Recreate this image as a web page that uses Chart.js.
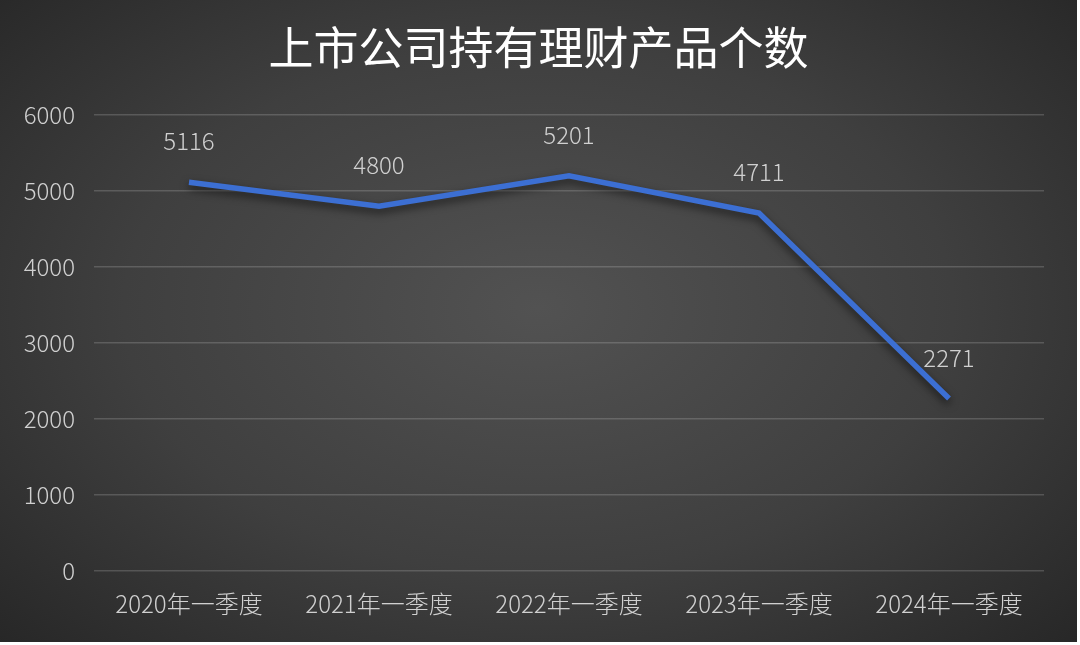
<!DOCTYPE html>
<html>
<head>
<meta charset="utf-8">
<script src="https://cdn.jsdelivr.net/npm/chart.js@4/dist/chart.umd.min.js"></script>
<style>
    html, body { margin: 0; padding: 0; background: #ffffff; }
    #wrap {
        position: absolute; left: 0; top: 0;
        width: 1077px; height: 642px;
        background: radial-gradient(ellipse 70% 75% at 50% 48%, #525252 0%, #3f3f3f 55%, #272727 100%);
    }
</style>
</head>
<body>
<div id="wrap"><canvas id="productChart" width="1077" height="642"></canvas></div>
<script>
const FONT = '"Noto Sans CJK SC", "Noto Sans", sans-serif';

let quarters = ['2020年一季度', '2021年一季度', '2022年一季度', '2023年一季度', '2024年一季度'],
    productCounts = [5116, 4800, 5201, 4711, 2271],
    yTicks = [0, 1000, 2000, 3000, 4000, 5000, 6000];

// value labels above each point + soft shadow under the line
const valueLabels = {
    id: 'valueLabels',
    beforeDatasetDraw(chart) {
        let ctx = chart.ctx;
        ctx.save();
        ctx.shadowColor = 'rgba(0,0,0,0.6)';
        ctx.shadowBlur = 8;
        ctx.shadowOffsetY = 4;
    },
    afterDatasetDraw(chart) {
        chart.ctx.restore();
    },
    afterDatasetsDraw(chart) {
        let ctx = chart.ctx,
            meta = chart.getDatasetMeta(0);
        ctx.save();
        ctx.font = '300 24px ' + FONT;
        ctx.fillStyle = '#d0d0d0';
        ctx.textAlign = 'center';
        ctx.textBaseline = 'middle';
        meta.data.forEach(function (pt, k) {
            ctx.fillText(productCounts[k], pt.x, pt.y - 41);
        });
        ctx.restore();
    }
};

let ctx = document.getElementById('productChart'),
    myChart = new Chart(ctx, {
        type: 'line',
        data: {
            labels: quarters,
            datasets: [{
                data: productCounts,
                borderColor: '#3c6fd3',
                borderWidth: 5.5,
                pointRadius: 0,
                tension: 0,
                fill: false
            }]
        },
        options: {
            responsive: false,
            animation: false,
            layout: { padding: { left: 0, right: 0, top: 21, bottom: 6 } },
            plugins: {
                legend: { display: false },
                tooltip: { enabled: false },
                title: {
                    display: true,
                    text: '上市公司持有理财产品个数',
                    color: '#ffffff',
                    font: { family: FONT, size: 45, weight: 'normal' },
                    padding: { top: 0, bottom: 40 }
                }
            },
            scales: {
                x: {
                    offset: true,
                    grid: { display: false, drawTicks: false },
                    border: { display: false },
                    ticks: {
                        color: '#d0d0d0',
                        font: { family: FONT, size: 24, weight: '300' },
                        padding: 18,
                        maxRotation: 0
                    }
                },
                y: {
                    min: 0,
                    max: 6000,
                    afterFit(scale) { scale.width = 94; },
                    afterBuildTicks(scale) {
                        scale.ticks = yTicks.map(function (v) { return { value: v }; });
                    },
                    grid: { color: 'rgba(255,255,255,0.17)', lineWidth: 1.5, drawTicks: false },
                    border: { display: false },
                    ticks: {
                        color: '#d0d0d0',
                        font: { family: FONT, size: 24, weight: '300' },
                        padding: 19,
                        callback: function (v) { return String(v); }
                    }
                },
                // empty right axis, only keeps a margin so the title stays centred on the canvas
                yRight: {
                    position: 'right',
                    min: 0,
                    max: 6000,
                    afterFit(scale) { scale.width = 33; },
                    grid: { display: false, drawTicks: false },
                    border: { display: false },
                    ticks: { display: false }
                }
            }
        },
        plugins: [valueLabels]
    });
</script>
</body>
</html>
